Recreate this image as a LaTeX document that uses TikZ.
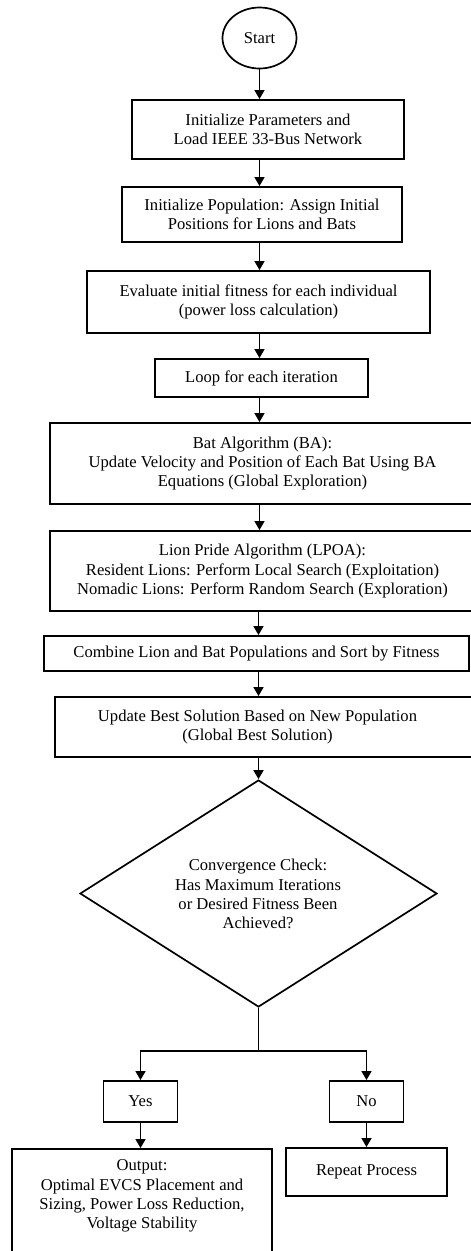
\documentclass[tikz,border=0pt]{standalone}
\usepackage{fontspec}
\setmainfont{Liberation Serif}
\usetikzlibrary{arrows.meta,shapes.geometric}
\begin{document}
\begin{tikzpicture}[x=1pt,y=-1pt,
  box/.style={draw, line width=1.9pt, rectangle, inner sep=0pt, align=center, font=\fontsize{16.6}{19.3}\selectfont},
  txt/.style={inner sep=0pt, align=center, font=\fontsize{16.6}{19.3}\selectfont},
  arr/.style={line width=1.7pt, -{Triangle[length=9pt,width=10pt]}},
  ln/.style={line width=1.7pt}]
\useasboundingbox (0,0) rectangle (471,1251);
\coordinate (ax) at (258.5,0);
\node[draw, ellipse, line width=1.7pt, minimum width=74pt, minimum height=61pt, inner sep=0pt, font=\fontsize{16.6}{19.3}\selectfont] (start) at (259.5,38) {Start};
\node[box, minimum width=272pt, minimum height=59pt] (b1) at (268,129.5) {Initialize Parameters and\\Load IEEE 33-Bus Network};
\node[box, minimum width=280pt, minimum height=55pt] (b2) at (262,214.5) {Initialize Population: Assign Initial\\Positions for Lions and Bats};
\node[box, minimum width=343pt, minimum height=62pt] (b3) at (258.5,302) {Evaluate initial fitness for each individual\\(power loss calculation)};
\node[box, minimum width=213pt, minimum height=38pt] (b4) at (261.5,378) {Loop for each iteration};
\node[box, minimum width=425pt, minimum height=81pt] (b5) at (262.5,463.5) {Bat Algorithm (BA):\\Update Velocity and Position of Each Bat Using BA\\Equations (Global Exploration)};
\node[box, minimum width=425pt, minimum height=80pt] (b6) at (262.5,571) {Lion Pride Algorithm (LPOA):\\Resident Lions: Perform Local Search (Exploitation)\\Nomadic Lions: Perform Random Search (Exploration)};
\node[box, minimum width=425pt, minimum height=35pt] (b7) at (256.5,653.5) {Combine Lion and Bat Populations and Sort by Fitness};
\node[box, minimum width=420pt, minimum height=60pt] (b8) at (265,727) {};
\node[txt] (b8t) at (257.5,727) {Update Best Solution Based on New Population\\(Global Best Solution)};
\node[draw, diamond, line width=1.7pt, minimum width=357pt, minimum height=227pt, inner sep=0pt] (dia) at (258.5,893.5) {};
\node[txt] (diat) at (258,894) {Convergence Check:\\Has Maximum Iterations\\or Desired Fitness Been\\Achieved?};
\node[box, minimum width=74pt, minimum height=41pt] (yes) at (140.5,1101.5) {Yes};
\node[box, minimum width=74pt, minimum height=41pt] (no) at (366.5,1101.5) {No};
\node[box, minimum width=260pt, minimum height=122pt] (out) at (142,1210) {};
\node[txt] (outt) at (142,1196) {Output:\\Optimal EVCS Placement and\\Sizing, Power Loss Reduction,\\Voltage Stability};
\node[box, minimum width=161pt, minimum height=48pt] (rep) at (366.5,1172) {Repeat Process};
\draw[arr] (start.south) -- (start.south |- b1.north);
\draw[arr] (b1.south -| start.south) -- (b2.north -| start.south);
\draw[arr] (b2.south -| start.south) -- (b3.north -| start.south);
\draw[arr] (b3.south -| start.south) -- (b4.north -| start.south);
\draw[arr] (b4.south -| start.south) -- (b5.north -| start.south);
\draw[arr] (b5.south -| start.south) -- (b6.north -| start.south);
\draw[arr] (b6.south -| ax) -- (b7.north -| ax);
\draw[arr] (b7.south -| ax) -- (b8.north -| ax);
\draw[arr] (b8.south -| ax) -- (dia.north);
\draw[ln] (dia.south) -- ++(0,43) coordinate (br);
\draw[arr] (br) -| (yes.north);
\draw[arr] (br) -| (no.north);
\draw[arr] (yes.south) -- (out.north -| yes.south);
\draw[arr] (no.south) -- (rep.north -| no.south);
\end{tikzpicture}
\end{document}
